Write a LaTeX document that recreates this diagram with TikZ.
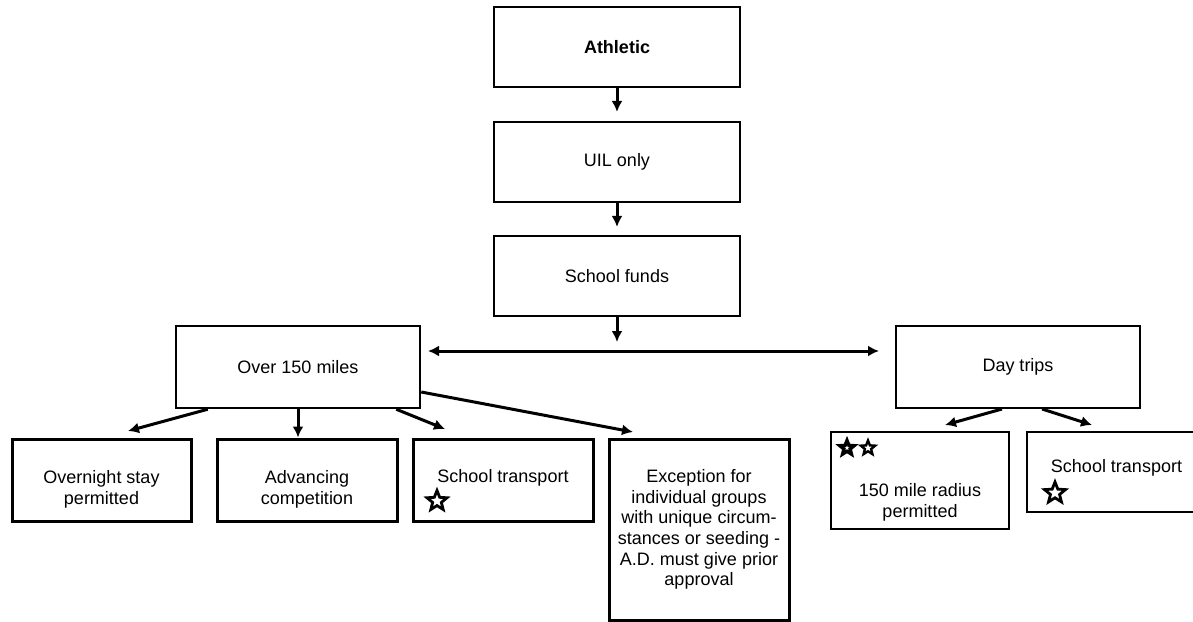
\documentclass[tikz,border=0pt]{standalone}
\usepackage{fontspec}
\setmainfont{Liberation Sans}
\usetikzlibrary{arrows.meta,shapes.geometric,calc}
\begin{document}
\begin{tikzpicture}[x=1pt,y=-1pt,
  txt/.style={inner sep=0pt, align=center, font=\fontsize{18pt}{20.7pt}\selectfont},
  box/.style={draw, line width=2pt, inner sep=0pt, txt},
  thickbox/.style={box, line width=3pt},
  arr/.style={line width=3pt, -{Latex[length=11pt,width=11pt]}},
  dblarr/.style={line width=3pt, {Latex[length=11pt,width=11pt]}-{Latex[length=11pt,width=11pt]}},
  starmark/.style={star, star points=5, star point ratio=2.3, draw, fill=white, line width=2.8pt, inner sep=0pt}]
\useasboundingbox (0,0) rectangle (1193,621);

% top chain
\node[box, line width=2.2pt, minimum width=246pt, minimum height=80pt] (ath) at (617,47) {\textbf{Athletic}};
\node[box, line width=2.2pt, minimum width=246pt, minimum height=80pt] (uil) at (617,162) {UIL only};
\node[box, line width=2.2pt, minimum width=246pt, minimum height=80pt] (funds) at (617,276) {School funds};

% second level
\node[box, line width=2.5pt, minimum width=244pt, minimum height=82pt] (over) at (298,367) {Over 150 miles};
\node[box, minimum width=244pt, minimum height=82pt] (day) at (1018,367) {Day trips};

% lower left boxes
\node[thickbox, minimum width=179pt, minimum height=82pt] (overnight) at (101.5,480) {};
\node[txt] (overnightT) at (101.5,489) {Overnight stay\\permitted};
\node[thickbox, minimum width=180pt, minimum height=82pt] (adv) at (307,480) {};
\node[txt] (advT) at (307,489) {Advancing\\competition};
\node[thickbox, minimum width=180pt, minimum height=82pt] (stA) at (503,480) {};
\node[txt] (stAT) at (503,478) {School transport};
\node[starmark, minimum size=21pt] (starA) at (437,501) {};
\node[thickbox, minimum width=180pt, minimum height=181pt] (exc) at (699,529.5)
  {Exception for\\individual groups\\with unique circum-\\stances or seeding -\\A.D. must give prior\\approval};

% lower right boxes
\node[box, minimum width=178pt, minimum height=97pt] (rad) at (920,480.5) {};
\node[txt] (radT) at (920,502) {150 mile radius\\permitted};
\node[starmark, line width=3.4pt, minimum size=15pt] (starR1) at (847,448) {};
\node[starmark, line width=2.4pt, minimum size=15pt] (starR2) at (868,448) {};
\node[box, minimum width=173pt, minimum height=80pt] (stB) at (1113.5,472) {};
\node[txt] (stBT) at (1116.5,468) {School transport};
\node[starmark, minimum size=22pt] (starB) at (1055,493) {};

% connector points
\coordinate (hub) at (617,342);
\coordinate (hl) at (428,351);
\coordinate (hr) at (879,351);
\coordinate (o1) at ($(over.south west)+(33,0)$);
\coordinate (t1) at (128,431);
\coordinate (t2) at (over.south |- adv.north);
\coordinate (o3) at ($(over.south east)+(-25,0)$);
\coordinate (t3) at (445,429);
\coordinate (o4) at ($(over.east)+(0,25)$);
\coordinate (t4) at (633,432);
\coordinate (d1) at ($(day.south)+(-16,0)$);
\coordinate (e1) at (945,425);
\coordinate (d2) at ($(day.south)+(24,0)$);
\coordinate (e2) at (1092,425);

% connectors
\draw[arr, shorten >=9pt] (ath.south) -- (uil.north);
\draw[arr, shorten >=8pt] (uil.south) -- (funds.north);
\draw[arr] (funds.south) -- (hub);
\draw[dblarr] (hl) -- (hr);
\draw[arr] (o1) -- (t1);
\draw[arr] (over.south) -- (t2);
\draw[arr] (o3) -- (t3);
\draw[arr] (o4) -- (t4);
\draw[arr] (d1) -- (e1);
\draw[arr] (d2) -- (e2);
\end{tikzpicture}
\end{document}
